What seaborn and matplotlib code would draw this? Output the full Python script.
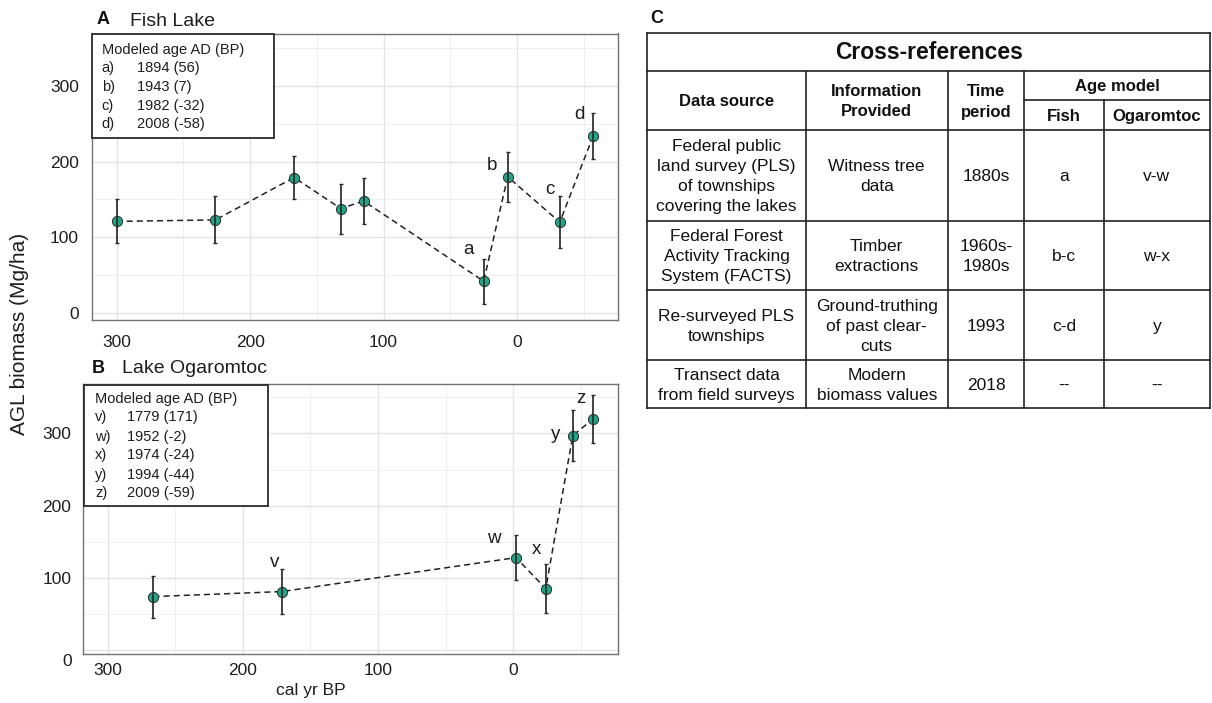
import matplotlib
matplotlib.use("Agg")
import matplotlib.pyplot as plt
import pandas as pd
import seaborn as sns
from matplotlib.patches import Rectangle
from matplotlib.ticker import MultipleLocator, FuncFormatter

# ---------------- data ----------------
# Fish Lake: age (cal yr BP), above-ground biomass (Mg/ha) and its uncertainty
fish_bp = [300, 226, 167, 132, 115, 25, 7, -32, -57]
fish_agb = [121, 123, 179, 138, 148, 42, 180, 120, 234]
fish_err = [29, 31, 29, 33, 30, 30, 33, 34, 30]
fish_tags = ["", "", "", "", "", "a", "b", "c", "d"]
fish_key_tags = ["a)", "b)", "c)", "d)"]
fish_key_ages = ["1894 (56)", "1943 (7)", "1982 (-32)", "2008 (-58)"]

# Lake Ogaromtoc
ogar_bp = [266, 171, -2, -24, -44, -59]
ogar_agb = [74, 81, 128, 85, 297, 320]
ogar_err = [29, 31, 31, 34, 35, 33]
ogar_tags = ["", "v", "w", "x", "y", "z"]
ogar_key_tags = ["v)", "w)", "x)", "y)", "z)"]
ogar_key_ages = ["1779 (171)", "1952 (-2)", "1974 (-24)", "1994 (-44)", "2009 (-59)"]

# Cross-reference table
table_title = "Cross-references"
table_header = ["Data source", "Information\nProvided", "Time\nperiod"]
table_group = "Age model"
table_subheader = ["Fish", "Ogaromtoc"]
table_rows = [
    ["Federal public\nland survey (PLS)\nof townships\ncovering the lakes",
     "Witness tree\ndata", "1880s", "a", "v-w"],
    ["Federal Forest\nActivity Tracking\nSystem (FACTS)",
     "Timber\nextractions", "1960s-\n1980s", "b-c", "w-x"],
    ["Re-surveyed PLS\ntownships",
     "Ground-truthing\nof past clear-\ncuts", "1993", "c-d", "y"],
    ["Transect data\nfrom field surveys",
     "Modern\nbiomass values", "2018", "--", "--"],
]

# ---------------- style ----------------
sns.set_theme(style="white")
plt.rcParams["font.family"] = ["Liberation Sans", "DejaVu Sans"]
TEAL = "#22a486"
INK = "#1e1e1e"

W, H = 1212, 703
fig = plt.figure(figsize=(W / 100, H / 100), dpi=100)


def px_axes(x0, y0, x1, y1):
    return fig.add_axes([x0 / W, 1 - y1 / H, (x1 - x0) / W, (y1 - y0) / H])


def draw_panel(ax, bp, agb, err, tags, offsets, xlim, ylim, xpad, ypad):
    df = pd.DataFrame({"bp": bp, "agb": agb})
    sns.lineplot(data=df, x="bp", y="agb", sort=False, estimator=None, ax=ax,
                 color="#222222", linewidth=1.1, linestyle=(0, (4, 2.6)), zorder=2)
    sns.scatterplot(data=df, x="bp", y="agb", ax=ax, s=54, color=TEAL,
                    edgecolor="#2a2a2a", linewidth=0.7, zorder=3)
    ax.errorbar(bp, agb, yerr=err, fmt="none", ecolor="#2a2a2a",
                elinewidth=1.25, capsize=1.4, capthick=1.0, zorder=4)
    for xv, yv, t in zip(bp, agb, tags):
        if t:
            dx, dy = offsets[t]
            ax.annotate(t, (xv, yv), xytext=(dx, -dy), textcoords="offset pixels",
                        ha="center", va="center", fontsize=13.5, color=INK, zorder=5)
    ax.set_xlim(*xlim)
    ax.set_ylim(*ylim)
    for axis in (ax.xaxis, ax.yaxis):
        axis.set_major_locator(MultipleLocator(100))
        axis.set_minor_locator(MultipleLocator(50))
    ax.grid(which="major", color="#e4e4e4", linewidth=1.0)
    ax.grid(which="minor", color="#efefef", linewidth=0.7)
    ax.set_axisbelow(True)
    for s in ax.spines.values():
        s.set_color("#737373")
        s.set_linewidth(1.0)
    ax.tick_params(which="major", length=2.3, width=0.8, color="#444444",
                   labelsize=12.5, labelcolor=INK)
    ax.tick_params(axis="x", pad=xpad)
    ax.tick_params(axis="y", pad=ypad)
    ax.tick_params(which="minor", length=0)
    ax.set_xlabel("")
    ax.set_ylabel("")


fish_offsets = {"a": (-15, -32), "b": (-16, -11), "c": (-10, -33), "d": (-14, -21)}
ogar_offsets = {"v": (-7, -29), "w": (-22, -19), "x": (-9, -39), "y": (-17, -1), "z": (-12, -20)}

axA = px_axes(92, 33.5, 618, 320)
draw_panel(axA, fish_bp, fish_agb, fish_err, fish_tags, fish_offsets,
           (318.4, -75.6), (-9.2, 369.2), 8.2, 7.0)

axB = px_axes(83.3, 384.3, 617.7, 653.5)
draw_panel(axB, ogar_bp, ogar_agb, ogar_err, ogar_tags, ogar_offsets,
           (317.9, -77.2), (-4.8, 368.0), 4.7, 6.2)
axB.yaxis.set_major_formatter(FuncFormatter(lambda v, p: "" if abs(v) < 1e-9 else f"{v:.0f}"))

# ---------------- overlay in pixel coordinates ----------------
ov = fig.add_axes([0, 0, 1, 1], zorder=10)
ov.set_xlim(0, W)
ov.set_ylim(H, 0)
ov.axis("off")
ov.patch.set_visible(False)

# panel B zero label sits a little low, next to the x tick labels
ov.text(71.7, 662, "0", ha="right", va="center", fontsize=12.5, color=INK)

# panel titles
ov.text(97, 23.5, "A", fontsize=13, fontweight="bold", color="#111111", va="baseline")
ov.text(130, 26, "Fish Lake", fontsize=14, color=INK, va="baseline")
ov.text(91.5, 373.3, "B", fontsize=13, fontweight="bold", color="#111111", va="baseline")
ov.text(122, 373.3, "Lake Ogaromtoc", fontsize=14, color=INK, va="baseline")
ov.text(650, 23, "C", fontsize=13, fontweight="bold", color="#111111", va="baseline")

# axis titles
ov.text(20, 334, "AGL biomass (Mg/ha)", rotation=90, ha="center", va="center",
        fontsize=15, color=INK)
ov.text(310.5, 690, "cal yr BP", ha="center", va="center", fontsize=12.5, color=INK)


def age_key(x0, y0, x1, y1, title_xy, rows_y, tag_x, age_x, tags, ages):
    ov.add_patch(Rectangle((x0, y0), x1 - x0, y1 - y0, facecolor="white",
                           edgecolor="#2b2b2b", linewidth=1.3, zorder=1))
    ov.text(title_xy[0], title_xy[1], "Modeled age AD (BP)", fontsize=10.5,
            ha="left", va="center", color=INK, zorder=2)
    for y, t, a in zip(rows_y, tags, ages):
        ov.text(tag_x, y, t, fontsize=10.5, ha="left", va="center", color=INK, zorder=2)
        ov.text(age_x, y, a, fontsize=10.5, ha="left", va="center", color=INK, zorder=2)


age_key(92, 34, 274, 138, (102, 50), [68.3, 87.3, 106, 124.3], 101.7, 136.7,
        fish_key_tags, fish_key_ages)
age_key(84, 384.5, 267.7, 506, (95, 399.3), [417, 436.5, 455.5, 474.5, 493.5], 95, 127.3,
        ogar_key_tags, ogar_key_ages)

# ---------------- cross-reference table ----------------
cols = [647.3, 805.7, 947.7, 1024.3, 1103.7, 1210]
rows = [33.3, 71, 100, 130, 220.7, 290, 360, 408.3]
LC = "#222222"
LW = 1.2
for y in [rows[0], rows[1], rows[3], rows[4], rows[5], rows[6], rows[7]]:
    ov.plot([cols[0], cols[5]], [y, y], color=LC, lw=LW, solid_capstyle="projecting")
ov.plot([cols[3], cols[5]], [rows[2], rows[2]], color=LC, lw=LW)
for x in [cols[0], cols[5]]:
    ov.plot([x, x], [rows[0], rows[7]], color=LC, lw=LW, solid_capstyle="projecting")
for x in cols[1:4]:
    ov.plot([x, x], [rows[1], rows[7]], color=LC, lw=LW)
ov.plot([cols[4], cols[4]], [rows[2], rows[7]], color=LC, lw=LW)

LINE = 20.0


def cell(xc, yc, text, bold=False, size=12.5):
    parts = text.split("\n")
    n = len(parts)
    for i, p in enumerate(parts):
        ov.text(xc, yc + (i - (n - 1) / 2) * LINE, p, ha="center", va="center",
                fontsize=size, fontweight="bold" if bold else "normal", color="#111111")


xc = [(cols[i] + cols[i + 1]) / 2 for i in range(5)]
ov.text((cols[0] + cols[5]) / 2, 52.5, table_title, ha="center", va="center",
        fontsize=16.5, fontweight="bold", color="#111111")
for i, h in enumerate(table_header):
    cell(xc[i], 102, h, bold=True, size=12)
cell((cols[3] + cols[5]) / 2, 87, table_group, bold=True, size=12)
cell(xc[3], 116.5, table_subheader[0], bold=True, size=12)
cell(xc[4], 116.5, table_subheader[1], bold=True, size=12)
row_bounds = [(rows[3], rows[4]), (rows[4], rows[5]), (rows[5], rows[6]), (rows[6], rows[7])]
for (ya, yb), r in zip(row_bounds, table_rows):
    yc = (ya + yb) / 2 + 1.3
    for i, t in enumerate(r):
        cell(xc[i], yc, t)

fig.savefig("out.png", dpi=100, facecolor="white")
